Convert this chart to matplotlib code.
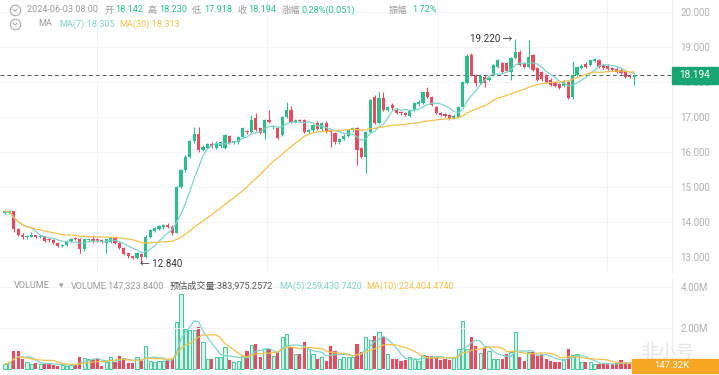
import matplotlib
matplotlib.use("Agg")
import matplotlib.pyplot as plt
from matplotlib.lines import Line2D
from matplotlib.patches import Rectangle
import numpy as np
import pandas as pd

plt.rcParams['font.family'] = ['Roboto', 'Noto Sans CJK SC', 'DejaVu Sans']

# OHLC data (144 candles)
opens = [14.26, 14.27, 14.30, 13.80, 13.64, 13.56, 13.58, 13.62, 13.56, 13.59,
         13.50, 13.48, 13.40, 13.31, 13.34, 13.46, 13.53, 13.52, 13.22, 13.48,
         13.52, 13.50, 13.48, 13.40, 13.44, 13.56, 13.40, 13.26, 13.10, 13.02,
         12.98, 13.08, 12.99, 13.58, 13.74, 13.80, 13.86, 13.92, 13.86, 13.70,
         15.00, 15.48, 15.86, 16.30, 16.52, 16.06, 16.12, 16.22, 16.12, 16.16,
         16.12, 16.45, 16.26, 16.28, 16.43, 16.60, 16.56, 16.97, 16.69, 16.54,
         16.90, 16.70, 16.69, 16.49, 17.00, 17.20, 16.86, 16.91, 16.91, 16.57,
         16.62, 16.84, 16.66, 16.84, 16.62, 16.54, 16.29, 16.37, 16.46, 16.62,
         16.69, 16.11, 15.86, 16.57, 17.57, 16.83, 17.54, 17.20, 17.34, 17.20,
         17.14, 17.10, 17.04, 17.20, 17.36, 17.40, 17.71, 17.57, 17.29, 17.11,
         17.08, 17.06, 16.97, 17.00, 17.29, 17.97, 18.77, 18.20, 17.97, 18.15,
         18.06, 18.20, 18.43, 18.54, 18.54, 18.29, 18.69, 18.86, 18.52, 18.43,
         18.77, 18.40, 18.29, 18.20, 18.06, 18.00, 17.94, 17.89, 18.00, 17.57,
         18.20, 18.40, 18.52, 18.49, 18.60, 18.63, 18.49, 18.46, 18.40, 18.38,
         18.34, 18.29, 18.18, 18.142]
highs = [14.33, 14.33, 14.32, 13.84, 13.68, 13.64, 13.72, 13.64, 13.62, 13.60,
         13.54, 13.50, 13.42, 13.36, 13.48, 13.54, 13.56, 13.54, 13.52, 13.54,
         13.62, 13.54, 13.50, 13.52, 13.56, 13.58, 13.44, 13.28, 13.12, 13.04,
         13.14, 13.12, 13.62, 13.80, 13.86, 13.92, 13.94, 13.96, 13.90, 15.02,
         15.52, 15.90, 16.34, 16.70, 16.72, 16.20, 16.26, 16.28, 16.30, 16.32,
         16.52, 16.48, 16.32, 16.46, 16.72, 16.64, 17.06, 17.10, 16.72, 16.95,
         17.20, 16.76, 16.72, 17.02, 17.43, 17.30, 16.94, 16.94, 16.94, 16.66,
         16.78, 16.88, 16.86, 16.88, 16.66, 16.58, 16.40, 16.50, 16.66, 16.72,
         16.72, 16.14, 16.60, 17.52, 17.62, 17.71, 17.72, 17.32, 17.40, 17.26,
         17.18, 17.14, 17.22, 17.42, 17.48, 17.72, 17.86, 17.60, 17.32, 17.14,
         17.12, 17.08, 17.08, 17.32, 18.02, 18.80, 18.82, 18.24, 18.22, 18.20,
         18.16, 18.52, 18.66, 18.58, 18.58, 18.72, 19.22, 18.90, 18.56, 19.20,
         18.80, 18.44, 18.32, 18.24, 18.10, 18.04, 17.98, 18.06, 18.04, 18.60,
         18.46, 18.52, 18.56, 18.64, 18.68, 18.66, 18.52, 18.50, 18.44, 18.42,
         18.40, 18.32, 18.22, 18.230]
lows = [14.22, 14.24, 13.72, 13.60, 13.52, 13.52, 13.56, 13.54, 13.54, 13.42,
        13.44, 13.36, 13.28, 13.28, 13.32, 13.44, 13.48, 13.10, 13.18, 13.44,
        13.40, 13.42, 13.40, 13.12, 13.40, 13.36, 13.22, 13.06, 12.98, 12.94,
        12.94, 12.84, 12.96, 13.54, 13.70, 13.76, 13.80, 13.84, 13.62, 13.68,
        14.96, 15.44, 15.82, 16.26, 16.00, 16.02, 16.08, 16.10, 16.08, 16.12,
        16.08, 16.24, 16.22, 16.24, 16.40, 16.52, 16.54, 16.60, 16.50, 16.38,
        16.82, 16.66, 16.36, 16.46, 16.96, 16.82, 16.82, 16.86, 16.54, 16.50,
        16.58, 16.62, 16.60, 16.54, 16.14, 16.24, 16.24, 16.34, 16.42, 16.58,
        15.63, 15.84, 15.40, 16.54, 16.80, 16.80, 17.16, 17.16, 17.20, 17.08,
        17.06, 17.02, 17.00, 17.16, 17.32, 17.38, 17.54, 17.30, 17.08, 17.02,
        17.00, 16.92, 16.94, 16.96, 17.26, 17.95, 18.18, 17.88, 17.94, 17.86,
        18.02, 18.16, 18.40, 18.26, 18.28, 18.06, 18.66, 18.46, 18.40, 18.40,
        18.30, 18.02, 18.04, 17.96, 17.88, 17.86, 17.80, 17.86, 17.52, 17.50,
        18.16, 18.36, 18.40, 18.46, 18.58, 18.40, 18.38, 18.34, 18.30, 18.26,
        18.22, 18.12, 18.10, 17.918]
closes = [14.30, 14.30, 13.80, 13.64, 13.56, 13.60, 13.62, 13.57, 13.59, 13.46,
          13.48, 13.40, 13.31, 13.34, 13.46, 13.52, 13.50, 13.22, 13.50, 13.52,
          13.46, 13.47, 13.44, 13.50, 13.53, 13.40, 13.26, 13.10, 13.02, 12.97,
          13.12, 12.99, 13.58, 13.76, 13.82, 13.88, 13.90, 13.86, 13.70, 15.00,
          15.48, 15.86, 16.30, 16.52, 16.06, 16.14, 16.22, 16.16, 16.26, 16.28,
          16.49, 16.27, 16.30, 16.43, 16.69, 16.56, 16.91, 16.63, 16.54, 16.91,
          16.86, 16.73, 16.40, 17.00, 17.20, 16.86, 16.90, 16.88, 16.57, 16.62,
          16.76, 16.66, 16.82, 16.58, 16.56, 16.29, 16.37, 16.46, 16.62, 16.69,
          16.06, 15.86, 16.57, 17.49, 16.83, 17.54, 17.20, 17.29, 17.25, 17.11,
          17.10, 17.06, 17.20, 17.40, 17.44, 17.71, 17.57, 17.34, 17.11, 17.05,
          17.03, 16.97, 17.04, 17.29, 18.00, 18.74, 18.20, 17.97, 18.17, 17.97,
          18.12, 18.49, 18.63, 18.29, 18.31, 18.69, 18.86, 18.49, 18.43, 18.71,
          18.34, 18.06, 18.08, 18.00, 17.91, 17.89, 17.83, 18.00, 17.54, 18.20,
          18.43, 18.46, 18.43, 18.63, 18.66, 18.43, 18.41, 18.37, 18.34, 18.29,
          18.26, 18.14, 18.14, 18.194]
# volume in millions
volumes = [0.24, 0.33, 0.89, 0.89, 0.49, 0.33, 0.24, 0.29, 0.24, 0.24,
           0.29, 0.20, 0.16, 0.20, 0.16, 0.20, 0.24, 0.60, 0.52, 0.49,
           0.49, 0.49, 0.16, 0.36, 0.60, 0.36, 0.62, 0.54, 0.28, 0.28,
           0.57, 0.41, 1.14, 0.41, 0.36, 0.41, 0.41, 0.49, 0.49, 2.28,
           3.66, 1.95, 1.92, 1.92, 2.06, 1.33, 0.49, 0.49, 0.57, 0.60,
           1.06, 0.44, 0.33, 0.41, 0.65, 0.89, 1.17, 1.22, 0.60, 0.98,
           0.98, 0.65, 0.81, 1.54, 1.71, 1.06, 0.73, 0.73, 1.30, 0.98,
           0.73, 0.49, 0.57, 0.41, 1.14, 0.89, 0.49, 0.57, 0.57, 0.60,
           1.22, 0.81, 1.54, 1.43, 1.63, 1.82, 1.54, 0.73, 0.49, 0.49,
           0.41, 0.46, 0.57, 0.49, 0.41, 0.68, 0.65, 0.65, 0.57, 0.46,
           0.49, 0.46, 0.57, 0.98, 2.36, 0.98, 1.54, 1.14, 0.78, 1.01,
           0.89, 0.49, 0.49, 0.49, 0.73, 0.81, 1.82, 0.57, 0.41, 0.81,
           0.81, 0.65, 0.73, 0.49, 0.41, 0.36, 0.33, 0.49, 0.98, 0.68,
           0.73, 0.36, 0.33, 0.33, 0.24, 0.24, 0.24, 0.24, 0.24, 0.29,
           0.46, 0.29, 0.24, 0.147]

price_ticks = [13, 14, 15, 16, 17, 18, 19, 20]
vol_ticks = [2, 4]
vol_tick_labels = ['2.00M', '4.00M']
last_price = 18.194

UP = '#2dbd8a'
DOWN = '#e84a5f'
MA7_C = '#7ed3c8'
MA30_C = '#f2c14e'
GRAY = '#9a9a9a'

df = pd.DataFrame({'o': opens, 'h': highs, 'l': lows, 'c': closes, 'v': volumes})
x = np.arange(len(df))
up = df['c'] >= df['o']
colors = np.where(up, UP, DOWN)
ma7 = df['c'].rolling(7, min_periods=1).mean()
ma30 = df['c'].rolling(30, min_periods=1).mean()
vma5 = df['v'].rolling(5, min_periods=1).mean()
vma10 = df['v'].rolling(10, min_periods=1).mean()

W, H = 719, 375
fig = plt.figure(figsize=(W / 100, H / 100), dpi=100)


def px(xp, yp):
    return xp / W, 1 - yp / H


ax = fig.add_axes([0, 103 / H, 672 / W, 272 / H])
axv = fig.add_axes([0, 5 / H, 672 / W, 92 / H])

xl = ((0 - 5) / 4.4, (672 - 5) / 4.4)

# price panel
ax.vlines(x, df['l'], df['h'], colors=colors, linewidth=0.8, zorder=3)
body = np.maximum((df['c'] - df['o']).abs(), 0.012)
ax.bar(x, body, bottom=np.minimum(df['o'], df['c']), width=0.72,
       color=colors, linewidth=0, zorder=4)
ax.plot(x, ma7, color=MA7_C, linewidth=0.9, zorder=5)
ax.plot(x, ma30, color=MA30_C, linewidth=0.9, zorder=5)
ax.axhline(last_price, color='#555555', linewidth=0.7, linestyle=(0, (4, 3)), zorder=2)
ax.set_xlim(*xl)
ax.set_ylim(20 - (272 - 12) / 35, 20 + 12 / 35)
ax.set_yticks(price_ticks)
ax.set_yticklabels([f'{t:.3f}' for t in price_ticks])
ax.yaxis.tick_right()
ax.tick_params(axis='y', length=0, pad=6, labelsize=7, labelcolor='#b0b0b0')
ax.set_xticks([])
ax.grid(axis='y', color='#f4f4f4', linewidth=0.7)
for gx in [97, 267, 437, 607]:
    ax.axvline((gx - 5) / 4.4, color='#f4f4f4', linewidth=0.7, zorder=0)
for s in ['top', 'left', 'bottom']:
    ax.spines[s].set_visible(False)
ax.spines['right'].set_color('#eeeeee')

# high / low markers
i_hi = int(np.argmax(highs))
i_lo = int(np.argmin(lows))
ax.annotate(f'{highs[i_hi]:.3f} \u2192', xy=(i_hi, highs[i_hi]), xytext=(-2, 0),
            textcoords='offset points', ha='right', va='center', fontsize=7, color='#333333')
ax.annotate(f'\u2190 {lows[i_lo]:.3f}', xy=(i_lo, lows[i_lo]), xytext=(-1, -1),
            textcoords='offset points', ha='left', va='center', fontsize=7, color='#333333')

# volume panel
axv.bar(x[up], df['v'][up], width=0.72, color='#d8f3ea', edgecolor=UP, linewidth=0.6)
axv.bar(x[~up], df['v'][~up], width=0.72, color=DOWN, linewidth=0)
axv.plot(x, vma5, color=MA7_C, linewidth=0.9)
axv.plot(x, vma10, color=MA30_C, linewidth=0.9)
axv.set_xlim(*xl)
axv.set_ylim(-0.05, 4.43)
axv.set_yticks(vol_ticks)
axv.set_yticklabels(vol_tick_labels)
axv.yaxis.tick_right()
axv.tick_params(axis='y', length=0, pad=6, labelsize=7, labelcolor='#b0b0b0')
axv.set_xticks([])
axv.grid(axis='y', color='#f4f4f4', linewidth=0.7)
for s in ['top', 'left', 'bottom']:
    axv.spines[s].set_visible(False)
axv.spines['right'].set_color('#eeeeee')

# price tag
fig.patches.append(Rectangle(px(672, 84), 46 / W, 17 / H, transform=fig.transFigure,
                             color='#17a673', zorder=10))
fig.text(*px(695, 75.5), f'{last_price:.3f}', color='white', fontsize=7.2,
         ha='center', va='center', zorder=11)

# volume tag + watermark
fig.text(*px(668, 353), '非小号', color='#e4e4e4', fontsize=13, ha='center', va='center',
         family=['Noto Sans CJK SC'], zorder=1)
fig.patches.append(Rectangle(px(632, 373), 87 / W, 14 / H, transform=fig.transFigure,
                             color='#f5a623', zorder=10))
fig.text(*px(672, 366), '147.32K', color='white', fontsize=6.8, ha='center', va='center', zorder=11)


# header rows
def circ(xc, yc):
    fig.add_artist(Line2D([xc / W], [1 - yc / H], marker='o', markersize=7.5,
                          markerfacecolor='none', markeredgecolor='#aaaaaa',
                          markeredgewidth=0.8, transform=fig.transFigure))
    fig.add_artist(Line2D([(xc - 2) / W, xc / W, (xc + 2) / W],
                          [1 - (yc - 0.8) / H, 1 - (yc + 1.2) / H, 1 - (yc - 0.8) / H],
                          color='#aaaaaa', linewidth=0.8, transform=fig.transFigure))


circ(15, 10)
circ(15, 24)

fs = 6.6
row1 = [(27, '2024-06-03 08:00', GRAY), (104, '开', GRAY), (115, '18.142', UP),
        (148, '高', GRAY), (159, '18.230', UP), (192, '低', GRAY), (204, '17.918', UP),
        (237, '收', GRAY), (248, '18.194', UP), (282, '涨幅', GRAY),
        (302, '0.28%(0.051)', UP), (389, '振幅', GRAY), (412, '1.72%', UP)]
for xp, t, c in row1:
    fig.text(*px(xp, 10), t, color=c, fontsize=fs, va='center', ha='left')

row2 = [(38, 'MA', GRAY), (59, 'MA(7):18.305', MA7_C), (119, 'MA(30):18.313', MA30_C)]
for xp, t, c in row2:
    fig.text(*px(xp, 24), t, color=c, fontsize=fs, va='center', ha='left')

row3 = [(14, 'VOLUME', GRAY), (59, '\u25be', GRAY), (71, 'VOLUME:147,323.8400', GRAY),
        (170, '预估成交量:383,975.2572', '#555555'), (279, 'MA(5):259,430.7420', MA7_C),
        (366, 'MA(10):224,404.4740', MA30_C)]
for xp, t, c in row3:
    fig.text(*px(xp, 286), t, color=c, fontsize=fs, va='center', ha='left')

fig.savefig('out.png', dpi=100)
